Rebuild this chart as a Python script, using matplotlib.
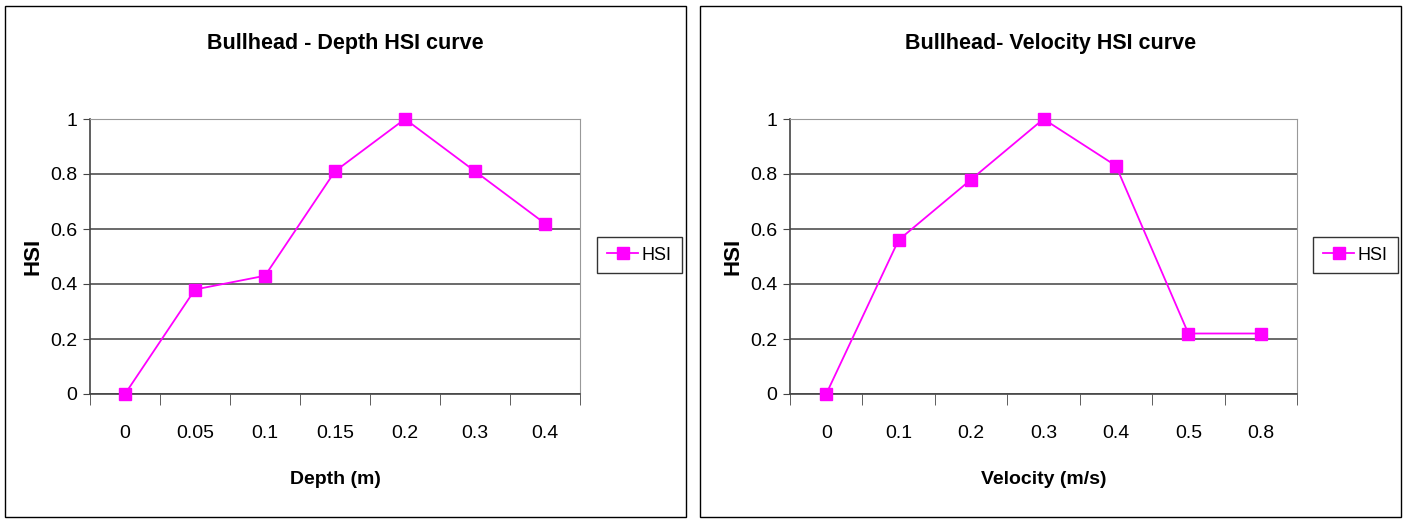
import matplotlib.pyplot as plt
from matplotlib.patches import Rectangle

depth_labels = ['0', '0.05', '0.1', '0.15', '0.2', '0.3', '0.4']
depth_hsi = [0.0, 0.38, 0.43, 0.81, 1.0, 0.81, 0.62]

velocity_labels = ['0', '0.1', '0.2', '0.3', '0.4', '0.5', '0.8']
velocity_hsi = [0.0, 0.56, 0.78, 1.0, 0.83, 0.22, 0.22]

W, H = 1406, 522
FONT = ['Liberation Sans', 'DejaVu Sans']


def px_rect(x0, y0, x1, y1):
    # pixel box (top-left origin) -> figure fraction [l, b, w, h]
    return [x0 / W, 1 - y1 / H, (x1 - x0) / W, (y1 - y0) / H]


def draw_chart(fig, frame, plot_box, legend_box, labels, values, title, xlabel):
    l, b, w, h = px_rect(*frame)
    fig.patches.append(Rectangle((l, b), w, h, transform=fig.transFigure,
                                 fill=False, edgecolor='black', linewidth=1))

    ax = fig.add_axes(px_rect(*plot_box))
    x = list(range(len(labels)))
    ax.plot(x, values, color='#ff00ff', linewidth=1.3, marker='s',
            markersize=9, markeredgecolor='#ff00ff', label='HSI', zorder=3,
            clip_on=False)

    ax.set_xlim(-0.5, len(labels) - 0.5)
    ax.set_ylim(0, 1)
    ax.set_yticks([0, 0.2, 0.4, 0.6, 0.8, 1.0])
    ax.set_yticklabels(['0', '0.2', '0.4', '0.6', '0.8', '1'],
                       family=FONT, fontsize=14)
    ax.set_xticks(x)
    ax.set_xticklabels(labels, family=FONT, fontsize=14)
    ax.set_xticks([i - 0.5 for i in range(len(labels) + 1)], minor=True)
    ax.tick_params(axis='x', which='major', length=0, pad=22)
    ax.tick_params(axis='x', which='minor', length=8, direction='out', color='#444444')
    ax.tick_params(axis='y', length=5, direction='out', color='#444444', pad=4)
    ax.grid(axis='y', color='#505050', linewidth=1.2)
    ax.set_axisbelow(True)

    for side in ['top', 'right']:
        ax.spines[side].set_color('#999999')
    for side in ['left', 'bottom']:
        ax.spines[side].set_color('#444444')
        ax.spines[side].set_linewidth(1.2)

    ax.set_xlabel(xlabel, family=FONT, fontsize=14, fontweight='bold', labelpad=21)
    ax.set_ylabel('HSI', family=FONT, fontsize=16, fontweight='bold', labelpad=5)

    fx = (frame[0] + frame[2]) / 2 / W
    fig.text(fx, 1 - 43 / H, title, ha='center', va='center',
             family=FONT, fontsize=15.5, fontweight='bold')

    lb = px_rect(*legend_box)
    ax.legend(loc='center', bbox_to_anchor=(lb[0], lb[1], lb[2], lb[3]),
              bbox_transform=fig.transFigure, frameon=True, fancybox=False,
              edgecolor='black', prop={'family': FONT, 'size': 13},
              handlelength=1.7, handletextpad=0.2, borderpad=0.55,
              borderaxespad=0)


fig = plt.figure(figsize=(W / 100, H / 100), dpi=100)

draw_chart(fig, (5, 6, 686, 517), (90, 119, 580, 394), (597, 235, 682, 275),
           depth_labels, depth_hsi, 'Bullhead - Depth HSI curve', 'Depth (m)')
draw_chart(fig, (700, 6, 1401, 517), (790, 119, 1297, 394), (1313, 235, 1398, 275),
           velocity_labels, velocity_hsi, 'Bullhead- Velocity HSI curve', 'Velocity (m/s)')

fig.savefig('out.png', dpi=100)
